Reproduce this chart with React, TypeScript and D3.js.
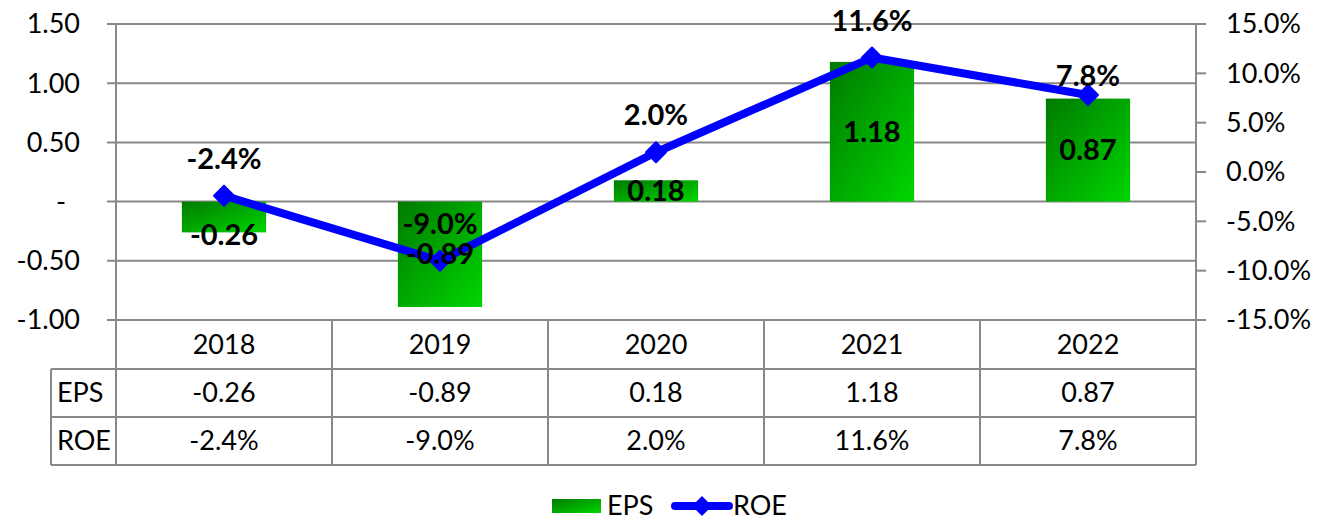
import React from "react";
import * as d3 from "d3";

const years = ["2018", "2019", "2020", "2021", "2022"];
const eps = [-0.26, -0.89, 0.18, 1.18, 0.87];
const roe = [-2.4, -9.0, 2.0, 11.6, 7.8];
const epsTicks = [1.5, 1.0, 0.5, 0, -0.5, -1.0];
const roeTicks = [15, 10, 5, 0, -5, -10, -15];
const rowLabels = ["EPS", "ROE"];

const W = 1319;
const H = 520;
const L = 116;
const R = 1196;
const T = 24;
const B = 320;
const ROW = 48;
const FONT = "Lato, 'Open Sans', sans-serif";
const GRID = "#888888";
const FS = 27;
const FSB = 29;

const locale = d3.formatLocale({ decimal: ".", thousands: ",", grouping: [3], currency: ["", ""], minus: "-" });
const f2 = locale.format(".2f");
const f1 = locale.format(".1f");

export default function App() {
  const x = d3.scaleBand<string>().domain(years).range([L, R]).paddingInner(0).paddingOuter(0);
  const yL = d3.scaleLinear().domain([-1, 1.5]).range([B, T]);
  const yR = d3.scaleLinear().domain([-15, 15]).range([B, T]);
  const bw = x.bandwidth() * 0.39;
  const cx = (y: string) => (x(y) as number) + x.bandwidth() / 2;
  const fmtL = (d: number) => (d === 0 ? "-" : f2(d));
  const fmtR = (d: number) => f1(d) + "%";
  const line = d3
    .line<number>()
    .x((_, i) => cx(years[i]))
    .y((d) => yR(d));
  const r1 = B + 49;
  const r2 = r1 + ROW;
  const r3 = r2 + ROW;
  const diamond = (px: number, py: number, s: number) =>
    `M${px},${py - s}L${px + s},${py}L${px},${py + s}L${px - s},${py}Z`;

  return (
    <svg width={W} height={H} style={{ position: "absolute", left: 0, top: 0, background: "#fff" }} fontFamily={FONT}>
      <defs>
        <linearGradient id="g" x1="0" y1="0" x2="1" y2="1">
          <stop offset="0" stopColor="#007a00" />
          <stop offset="1" stopColor="#00d600" />
        </linearGradient>
      </defs>
      {epsTicks.map((t) => (
        <g key={"l" + t}>
          <line x1={L - 9} x2={R} y1={yL(t)} y2={yL(t)} stroke={GRID} strokeWidth={2} />
          <text x={t === 0 ? 66 : 80} y={yL(t)} dy="0.35em" textAnchor="end" fontSize={FS} fill="#000">
            {fmtL(t)}
          </text>
        </g>
      ))}
      {roeTicks.map((t) => (
        <g key={"r" + t}>
          <line x1={R} x2={R + 10} y1={yR(t)} y2={yR(t)} stroke={GRID} strokeWidth={2} />
          <text x={1226} y={yR(t)} dy="0.35em" textAnchor="start" fontSize={FS} fill="#000">
            {fmtR(t)}
          </text>
        </g>
      ))}
      <line x1={L} x2={L} y1={T} y2={r3} stroke={GRID} strokeWidth={2} />
      <line x1={R} x2={R} y1={T} y2={r3} stroke={GRID} strokeWidth={2} />
      {[r1, r2, r3].map((y) => (
        <line key={"h" + y} x1={51} x2={R} y1={y} y2={y} stroke={GRID} strokeWidth={2} />
      ))}
      <line x1={51} x2={51} y1={r1} y2={r3} stroke={GRID} strokeWidth={2} />
      {years.slice(1).map((y) => (
        <line key={"v" + y} x1={x(y)} x2={x(y)} y1={B} y2={r3} stroke={GRID} strokeWidth={2} />
      ))}
      {years.map((y, i) => (
        <g key={"t" + y} fontSize={FS} textAnchor="middle" fill="#000">
          <text x={cx(y)} y={(B + r1) / 2} dy="0.35em">{y}</text>
          <text x={cx(y)} y={(r1 + r2) / 2} dy="0.35em">{f2(eps[i])}</text>
          <text x={cx(y)} y={(r2 + r3) / 2} dy="0.35em">{f1(roe[i]) + "%"}</text>
        </g>
      ))}
      {rowLabels.map((lab, i) => (
        <text key={lab} x={57} y={(i === 0 ? r1 + r2 : r2 + r3) / 2} dy="0.35em" fontSize={FS} fill="#000">
          {lab}
        </text>
      ))}
      {years.map((y, i) => (
        <rect
          key={"b" + y}
          x={cx(y) - bw / 2}
          y={Math.min(yL(eps[i]), yL(0))}
          width={bw}
          height={Math.abs(yL(eps[i]) - yL(0))}
          fill="url(#g)"
        />
      ))}
      <path d={line(roe) || ""} fill="none" stroke="#0000ff" strokeWidth={8} strokeLinejoin="round" />
      {roe.map((v, i) => (
        <path key={"m" + i} d={diamond(cx(years[i]), yR(v), 10)} fill="#0000ff" stroke="#0000ff" strokeWidth={2} strokeLinejoin="round" />
      ))}
      {years.map((y, i) => (
        <text
          key={"bl" + y}
          x={cx(y)}
          y={(yL(eps[i]) + yL(0)) / 2 + (eps[i] < 0 && eps[i] > -0.5 ? 18 : 0)}
          dy="0.35em"
          textAnchor="middle"
          fontSize={FSB}
          fontWeight="bold"
          fill="#000"
        >
          {f2(eps[i])}
        </text>
      ))}
      {years.map((y, i) => (
        <text
          key={"ll" + y}
          x={cx(y)}
          y={yR(roe[i]) - (i === years.length - 1 ? 19 : 37)}
          dy="0.35em"
          textAnchor="middle"
          fontSize={FSB}
          fontWeight="bold"
          fill="#000"
        >
          {f1(roe[i]) + "%"}
        </text>
      ))}
      <rect x={552} y={499} width={49} height={14} fill="url(#g)" />
      <text x={607} y={506} dy="0.35em" fontSize={FS} fill="#000">EPS</text>
      <line x1={675} x2={729} y1={506} y2={506} stroke="#0000ff" strokeWidth={8} strokeLinecap="round" />
      <path d={diamond(702, 506, 10)} fill="#0000ff" />
      <text x={733} y={506} dy="0.35em" fontSize={FS} fill="#000">ROE</text>
    </svg>
  );
}
